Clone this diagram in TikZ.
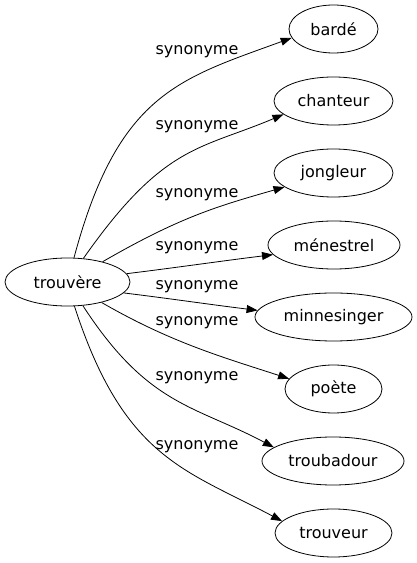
\documentclass[tikz,border=0pt]{standalone}
\usepackage{fontspec}
\setmainfont{DejaVu Sans}
\usetikzlibrary{arrows.meta,shapes.geometric}
\begin{document}
\begin{tikzpicture}[x=1pt,y=1pt,
  word/.style={draw, ellipse, inner sep=0pt, minimum height=48pt, line width=0.8pt,
     font=\fontsize{16}{19}\selectfont},
  rel/.style={font=\fontsize{16}{19}\selectfont, inner sep=0pt},
  edge/.style={draw, line width=0.8pt, -{Triangle[length=11pt,width=8pt]}}]
\useasboundingbox (0,0) rectangle (417,563);
\node[word, minimum width=125pt] (t) at (67.5,281) {trouvère};
\node[word, minimum width=89pt] (bar) at (333.5,534) {bardé};
\node[word, minimum width=119pt] (cha) at (333.5,462) {chanteur};
\node[word, minimum width=119pt] (jon) at (333.5,390) {jongleur};
\node[word, minimum width=132pt] (men) at (334,318) {ménestrel};
\node[word, minimum width=157pt] (min) at (333.5,246) {minnesinger};
\node[word, minimum width=97pt] (poe) at (333.5,174) {poète};
\node[word, minimum width=142pt] (tro) at (333,102) {troubadour};
\node[word, minimum width=117pt] (trv) at (333.5,30) {trouveur};
\node[rel] (l1) at (197,511) {synonyme};
\node[rel] (l2) at (197,436) {synonyme};
\node[rel] (l3) at (197,368) {synonyme};
\node[rel] (l4) at (197,315) {synonyme};
\node[rel] (l5) at (197,276) {synonyme};
\node[rel] (l6) at (197,240) {synonyme};
\node[rel] (l7) at (197,185) {synonyme};
\node[rel] (l8) at (197,116) {synonyme};
\draw[edge] (t.75) .. controls +(75:170) and +(200:120) .. (bar.192);
\draw[edge] (t.56) .. controls +(55:140) and +(203:90) .. (cha.195);
\draw[edge] (t.30) .. controls +(30:90) and +(196:70) .. (jon.196);
\draw[edge] (t.8) .. controls +(7:50) and +(187:50) .. (men.189);
\draw[edge] (t.-11) .. controls +(-7:50) and +(173:50) .. (min.175);
\draw[edge] (t.-31) .. controls +(-30:80) and +(162:70) .. (poe.167);
\draw[edge] (t.-57) .. controls +(-57:120) and +(152:90) .. (tro.167);
\draw[edge] (t.-74) .. controls +(-72:160) and +(152:110) .. (trv.167);
\end{tikzpicture}
\end{document}
